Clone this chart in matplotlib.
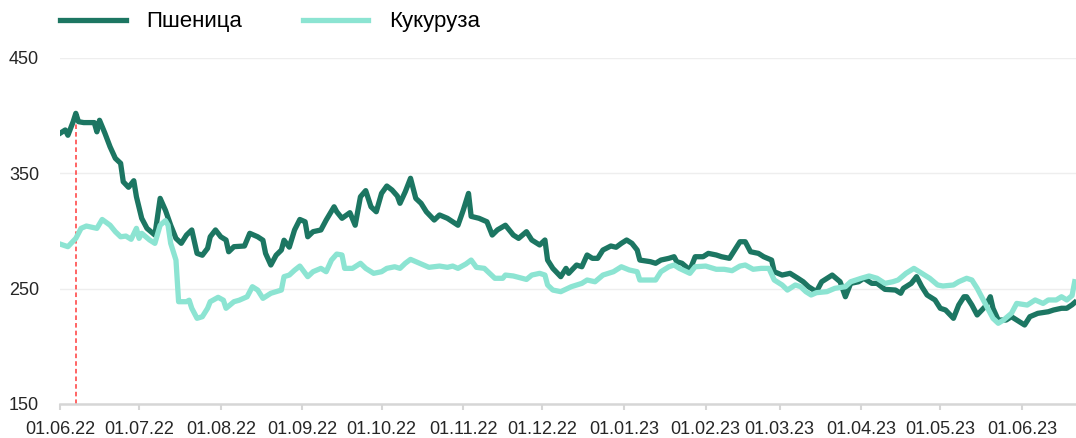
import matplotlib
matplotlib.use('Agg')
import matplotlib.pyplot as plt
import matplotlib.dates as mdates
import pandas as pd

# Пшеница (dark) - dates and prices
wheat_dates = [
    '2022-06-01', '2022-06-03', '2022-06-04', '2022-06-06', '2022-06-07', '2022-06-08',
    '2022-06-10', '2022-06-14', '2022-06-15', '2022-06-16', '2022-06-18', '2022-06-20',
    '2022-06-22', '2022-06-24', '2022-06-25', '2022-06-27', '2022-06-29', '2022-06-30',
    '2022-07-02', '2022-07-04', '2022-07-07', '2022-07-09', '2022-07-11', '2022-07-13',
    '2022-07-15', '2022-07-17', '2022-07-19', '2022-07-21', '2022-07-22', '2022-07-23',
    '2022-07-25', '2022-07-27', '2022-07-28', '2022-07-29', '2022-07-30', '2022-08-01',
    '2022-08-03', '2022-08-04', '2022-08-06', '2022-08-10', '2022-08-12', '2022-08-15',
    '2022-08-17', '2022-08-18', '2022-08-20', '2022-08-22', '2022-08-24', '2022-08-25',
    '2022-08-27', '2022-08-29', '2022-08-31', '2022-09-02', '2022-09-03', '2022-09-05',
    '2022-09-08', '2022-09-10', '2022-09-13', '2022-09-14', '2022-09-16', '2022-09-19',
    '2022-09-21', '2022-09-23', '2022-09-25', '2022-09-27', '2022-09-29', '2022-10-01',
    '2022-10-03', '2022-10-05', '2022-10-07', '2022-10-08', '2022-10-10', '2022-10-12',
    '2022-10-14', '2022-10-16', '2022-10-18', '2022-10-21', '2022-10-23', '2022-10-26',
    '2022-10-28', '2022-10-30', '2022-11-01', '2022-11-03', '2022-11-04', '2022-11-07',
    '2022-11-10', '2022-11-12', '2022-11-14', '2022-11-17', '2022-11-20', '2022-11-22',
    '2022-11-25', '2022-11-27', '2022-11-30', '2022-12-02', '2022-12-03', '2022-12-05',
    '2022-12-08', '2022-12-10', '2022-12-11', '2022-12-14', '2022-12-16', '2022-12-18',
    '2022-12-20', '2022-12-22', '2022-12-24', '2022-12-27', '2022-12-29', '2022-12-31',
    '2023-01-02', '2023-01-04', '2023-01-06', '2023-01-07', '2023-01-11', '2023-01-13',
    '2023-01-15', '2023-01-18', '2023-01-20', '2023-01-21', '2023-01-23', '2023-01-26',
    '2023-01-28', '2023-01-31', '2023-02-02', '2023-02-05', '2023-02-07', '2023-02-10',
    '2023-02-12', '2023-02-14', '2023-02-16', '2023-02-18', '2023-02-21', '2023-02-23',
    '2023-02-26', '2023-02-27', '2023-03-02', '2023-03-05', '2023-03-08', '2023-03-10',
    '2023-03-12', '2023-03-15', '2023-03-17', '2023-03-21', '2023-03-24', '2023-03-26',
    '2023-03-28', '2023-03-31', '2023-04-02', '2023-04-05', '2023-04-07', '2023-04-10',
    '2023-04-14', '2023-04-16', '2023-04-17', '2023-04-20', '2023-04-22', '2023-04-24',
    '2023-04-26', '2023-04-29', '2023-05-01', '2023-05-03', '2023-05-06', '2023-05-08',
    '2023-05-10', '2023-05-11', '2023-05-13', '2023-05-15', '2023-05-18', '2023-05-20',
    '2023-05-21', '2023-05-23', '2023-05-26', '2023-05-28', '2023-05-30', '2023-06-02',
    '2023-06-04', '2023-06-07', '2023-06-11', '2023-06-13', '2023-06-16', '2023-06-18',
    '2023-06-20', '2023-06-21',
]
wheat = [
    384.7, 387.6, 383.0, 394.8, 402.0, 394.8,
    394.0, 394.0, 386.0, 396.0, 385.0, 373.0,
    363.0, 358.7, 342.7, 337.9, 343.6, 329.7,
    311.0, 302.3, 296.5, 328.3, 318.0, 305.0,
    293.6, 289.3, 296.5, 300.9, 290.7, 280.6,
    279.0, 285.0, 295.0, 298.0, 300.9, 295.0,
    292.2, 282.0, 286.4, 287.0, 298.0, 295.0,
    292.0, 280.6, 270.5, 279.0, 283.5, 292.0,
    286.0, 300.9, 310.0, 308.0, 295.0, 299.4,
    300.9, 309.5, 321.0, 316.7, 311.0, 315.9,
    305.0, 329.7, 335.0, 321.0, 316.7, 332.6,
    339.0, 335.5, 330.3, 324.0, 334.0, 345.7,
    328.3, 324.0, 316.7, 309.5, 313.9, 311.0,
    308.0, 305.0, 318.0, 332.6, 312.7, 311.0,
    308.0, 296.5, 301.0, 305.0, 296.5, 293.6,
    299.4, 292.2, 287.9, 292.2, 274.8, 267.6,
    260.4, 267.6, 263.3, 270.5, 269.0, 279.2,
    276.3, 276.3, 283.5, 287.0, 285.9, 289.3,
    292.2, 289.3, 283.5, 274.8, 273.4, 272.0,
    274.8, 276.3, 277.7, 273.4, 272.0, 266.2,
    277.7, 277.7, 280.6, 279.2, 277.7, 276.3,
    283.5, 290.7, 290.7, 282.0, 280.6, 277.7,
    274.8, 264.7, 261.8, 263.3, 259.0, 256.0,
    251.7, 247.4, 256.0, 261.8, 256.0, 243.0,
    254.6, 256.0, 259.0, 254.6, 254.6, 249.4,
    248.8, 246.0, 250.3, 254.6, 260.4, 251.7,
    244.5, 240.2, 233.0, 231.5, 224.3, 235.8,
    243.0, 243.0, 235.8, 227.2, 234.4, 243.0,
    233.0, 222.8, 222.8, 225.7, 222.8, 218.5,
    225.7, 228.6, 230.0, 231.5, 233.0, 233.0,
    236.0, 238.0,
]

# Кукуруза (light) - dates and prices
corn_dates = [
    '2022-06-01', '2022-06-04', '2022-06-07', '2022-06-09', '2022-06-11', '2022-06-15',
    '2022-06-17', '2022-06-20', '2022-06-22', '2022-06-24', '2022-06-26', '2022-06-28',
    '2022-06-30', '2022-07-01', '2022-07-02', '2022-07-05', '2022-07-07', '2022-07-09',
    '2022-07-11', '2022-07-12', '2022-07-13', '2022-07-15', '2022-07-16', '2022-07-19',
    '2022-07-20', '2022-07-21', '2022-07-23', '2022-07-25', '2022-07-27', '2022-07-28',
    '2022-07-31', '2022-08-02', '2022-08-03', '2022-08-06', '2022-08-08', '2022-08-11',
    '2022-08-13', '2022-08-15', '2022-08-17', '2022-08-20', '2022-08-22', '2022-08-24',
    '2022-08-25', '2022-08-27', '2022-08-29', '2022-08-31', '2022-09-03', '2022-09-05',
    '2022-09-08', '2022-09-10', '2022-09-12', '2022-09-14', '2022-09-16', '2022-09-17',
    '2022-09-20', '2022-09-23', '2022-09-25', '2022-09-28', '2022-10-01', '2022-10-03',
    '2022-10-06', '2022-10-08', '2022-10-10', '2022-10-12', '2022-10-14', '2022-10-17',
    '2022-10-19', '2022-10-23', '2022-10-26', '2022-10-28', '2022-10-30', '2022-11-02',
    '2022-11-04', '2022-11-06', '2022-11-09', '2022-11-11', '2022-11-13', '2022-11-16',
    '2022-11-17', '2022-11-20', '2022-11-22', '2022-11-25', '2022-11-27', '2022-11-30',
    '2022-12-02', '2022-12-03', '2022-12-05', '2022-12-08', '2022-12-12', '2022-12-16',
    '2022-12-18', '2022-12-21', '2022-12-24', '2022-12-28', '2022-12-31', '2023-01-03',
    '2023-01-06', '2023-01-07', '2023-01-13', '2023-01-15', '2023-01-18', '2023-01-20',
    '2023-01-22', '2023-01-26', '2023-01-28', '2023-02-01', '2023-02-05', '2023-02-08',
    '2023-02-11', '2023-02-14', '2023-02-16', '2023-02-19', '2023-02-22', '2023-02-25',
    '2023-02-27', '2023-03-02', '2023-03-04', '2023-03-07', '2023-03-09', '2023-03-11',
    '2023-03-13', '2023-03-15', '2023-03-19', '2023-03-22', '2023-03-26', '2023-03-28',
    '2023-04-01', '2023-04-04', '2023-04-07', '2023-04-10', '2023-04-13', '2023-04-15',
    '2023-04-18', '2023-04-21', '2023-04-24', '2023-04-27', '2023-04-30', '2023-05-02',
    '2023-05-06', '2023-05-08', '2023-05-11', '2023-05-13', '2023-05-15', '2023-05-17',
    '2023-05-19', '2023-05-21', '2023-05-23', '2023-05-25', '2023-05-28', '2023-05-30',
    '2023-06-03', '2023-06-06', '2023-06-09', '2023-06-11', '2023-06-14', '2023-06-16',
    '2023-06-18', '2023-06-20', '2023-06-21',
]
corn = [
    288.7, 286.4, 293.6, 302.3, 304.3, 302.3,
    310.0, 305.0, 299.4, 295.0, 295.6, 292.8,
    302.3, 293.6, 298.0, 292.2, 289.3, 305.0,
    309.0, 305.0, 289.3, 274.8, 238.7, 238.7,
    240.0, 233.0, 224.3, 225.7, 233.0, 238.7,
    242.5, 240.0, 233.0, 238.7, 240.0, 243.0,
    251.7, 248.8, 241.6, 246.0, 247.4, 248.8,
    260.4, 261.8, 266.0, 269.6, 260.4, 264.7,
    267.6, 264.7, 274.8, 280.0, 279.2, 267.6,
    267.6, 272.0, 267.6, 263.3, 264.7, 267.6,
    269.0, 267.6, 272.0, 275.4, 273.4, 270.5,
    268.5, 269.6, 268.5, 269.6, 267.6, 271.4,
    274.8, 268.5, 267.6, 263.3, 259.0, 259.0,
    261.8, 261.0, 259.8, 258.0, 261.8, 263.3,
    261.8, 253.2, 248.8, 247.4, 251.7, 254.6,
    257.5, 256.0, 261.8, 264.7, 269.0, 266.2,
    264.7, 257.5, 257.5, 264.7, 269.0, 270.5,
    267.6, 263.3, 269.0, 269.6, 266.8, 266.8,
    265.6, 269.6, 270.5, 266.8, 267.6, 267.6,
    257.5, 253.2, 248.8, 253.2, 251.7, 247.4,
    244.5, 246.5, 247.4, 250.3, 251.7, 256.0,
    259.0, 261.0, 259.0, 254.6, 256.0, 257.5,
    263.3, 267.6, 263.3, 259.0, 253.2, 252.3,
    253.2, 256.0, 259.0, 257.5, 250.3, 241.6,
    233.0, 224.3, 220.0, 222.8, 228.6, 237.2,
    235.8, 240.2, 237.2, 240.2, 240.2, 243.0,
    240.2, 244.0, 256.0,
]

labels = ['Пшеница', 'Кукуруза']
colors = ['#1c7662', '#8ce4d2']
yticks = [150, 250, 350, 450]

plt.rcParams['font.family'] = ['Liberation Sans Narrow', 'Liberation Sans', 'DejaVu Sans']

wd = pd.to_datetime(wheat_dates)
cd = pd.to_datetime(corn_dates)

fig = plt.figure(figsize=(10.76, 4.38), dpi=100)
ax = fig.add_axes([60 / 1076, 34 / 438, 1016 / 1076, 346 / 438])

ax.plot(wd, wheat, color=colors[0], lw=3.8, label=labels[0], solid_joinstyle='round', zorder=3)
ax.plot(cd, corn, color=colors[1], lw=3.8, label=labels[1], solid_joinstyle='round', zorder=4)

# red dashed marker at the wheat peak
peak_i = wheat.index(max(wheat))
ax.vlines(wd[peak_i], yticks[0], wheat[peak_i], colors='#ff3b3b', linestyles=(0, (3, 2)),
          lw=1.1, zorder=2)

ax.set_ylim(150, 450)
ax.set_yticks(yticks)
ax.set_xlim(pd.Timestamp('2022-06-01'), pd.Timestamp('2023-06-21 12:00'))
ax.xaxis.set_major_locator(mdates.MonthLocator(bymonthday=1))
ax.xaxis.set_major_formatter(mdates.DateFormatter('%d.%m.%y'))

ax.grid(axis='y', color='#eeeeee', lw=1)
ax.set_axisbelow(True)
for s in ['top', 'right', 'left']:
    ax.spines[s].set_visible(False)
ax.spines['bottom'].set_color('#d6d6d6')
ax.spines['bottom'].set_linewidth(1.8)
ax.tick_params(axis='y', length=0, pad=15, labelsize=13, labelcolor='#262626')
ax.tick_params(axis='x', length=4.5, width=1.5, color='#d6d6d6', pad=8, labelsize=13,
               labelcolor='#262626')

ax.legend(loc='center left', bbox_to_anchor=(60 / 1076, 1 - 22 / 438),
          bbox_transform=fig.transFigure, ncol=2, frameon=False, fontsize=16,
          handlelength=2.95, handletextpad=0.95, columnspacing=2.7,
          borderpad=0, borderaxespad=0)

fig.savefig('out.png', dpi=100)
